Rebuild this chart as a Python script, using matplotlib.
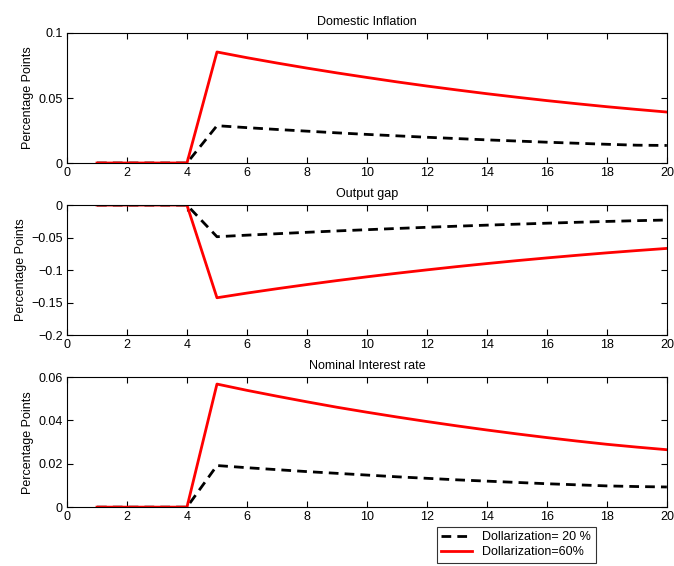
import numpy as np
import matplotlib.pyplot as plt

plt.rcParams['font.family'] = ['Liberation Sans', 'DejaVu Sans']

# periods
t = np.arange(1, 21)

# impulse responses
infl_20 = [0, 0, 0, 0, 0.0287, 0.0272, 0.0258, 0.0245, 0.0232, 0.0220, 0.0209, 0.0198,
           0.0188, 0.0178, 0.0169, 0.0160, 0.0152, 0.0144, 0.0137, 0.0135]
infl_60 = [0, 0, 0, 0, 0.0854, 0.0810, 0.0769, 0.0730, 0.0693, 0.0658, 0.0624, 0.0592,
           0.0562, 0.0533, 0.0506, 0.0480, 0.0456, 0.0433, 0.0412, 0.0392]
gap_20 = [0, 0, 0, 0, -0.0487, -0.0463, -0.0441, -0.0419, -0.0398, -0.0379, -0.0360, -0.0342,
          -0.0325, -0.0309, -0.0294, -0.0279, -0.0265, -0.0252, -0.0240, -0.0230]
gap_60 = [0, 0, 0, 0, -0.1426, -0.1354, -0.1287, -0.1223, -0.1162, -0.1104, -0.1049, -0.0997,
          -0.0947, -0.0900, -0.0855, -0.0813, -0.0773, -0.0735, -0.0700, -0.0667]
rate_20 = [0, 0, 0, 0, 0.0192, 0.0182, 0.0173, 0.0164, 0.0156, 0.0148, 0.0140, 0.0133,
           0.0126, 0.0120, 0.0114, 0.0108, 0.0103, 0.0098, 0.0095, 0.0093]
rate_60 = [0, 0, 0, 0, 0.0568, 0.0539, 0.0512, 0.0486, 0.0461, 0.0438, 0.0416, 0.0395,
           0.0375, 0.0356, 0.0338, 0.0321, 0.0305, 0.0290, 0.0277, 0.0265]

titles = ['Domestic Inflation', 'Output gap', 'Nominal Interest rate']
ylims = [(0, 0.1), (-0.2, 0), (0, 0.06)]
yticks = [[0, 0.05, 0.1], [-0.2, -0.15, -0.1, -0.05, 0], [0, 0.02, 0.04, 0.06]]
yticklabels = [['0', '0.05', '0.1'],
               ['\u22120.2', '\u22120.15', '\u22120.1', '\u22120.05', '0'],
               ['0', '0.02', '0.04', '0.06']]
series = [(infl_20, infl_60), (gap_20, gap_60), (rate_20, rate_60)]

fs = 9
fig = plt.figure(figsize=(6.74, 5.66), dpi=100)
bottoms = [0.712, 0.408, 0.104]
for i in range(3):
    ax = fig.add_axes([0.0994, bottoms[i], 0.890, 0.2297])
    s20, s60 = series[i]
    l1, = ax.plot(t, s20, 'k--', lw=2.0, dashes=(3.5, 2.2), label='Dollarization= 20 %')
    l2, = ax.plot(t, s60, 'r-', lw=2.0, label='Dollarization=60%')
    ax.set_xlim(0, 20)
    ax.set_xticks(np.arange(0, 21, 2))
    ax.set_ylim(*ylims[i])
    ax.set_yticks(yticks[i])
    ax.set_yticklabels(yticklabels[i])
    ax.set_title(titles[i], fontsize=fs, pad=6)
    ax.set_ylabel('Percentage Points', fontsize=fs, labelpad=3)
    ax.tick_params(direction='in', top=True, right=True, labelsize=fs, length=4, pad=3)
    for sp in ax.spines.values():
        sp.set_linewidth(0.8)

fig.legend(handles=[l1, l2], loc='upper left', bbox_to_anchor=(0.648, 0.069),
           borderaxespad=0, fontsize=fs, frameon=True, fancybox=False,
           edgecolor='black', borderpad=0.35, handlelength=2.5, labelspacing=0.25)
fig.legends[0].get_frame().set_linewidth(0.8)

plt.savefig('out.png', dpi=100)
